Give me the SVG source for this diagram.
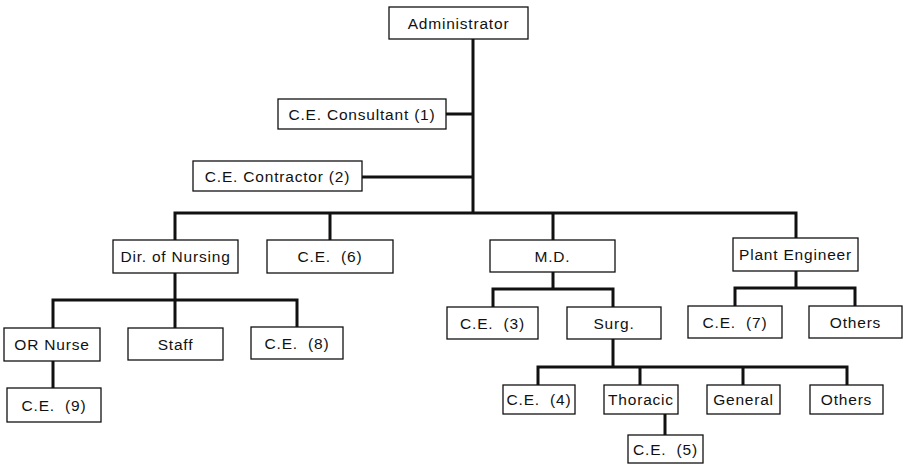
<svg xmlns="http://www.w3.org/2000/svg" width="904" height="464" viewBox="0 0 904 464">
<style>
.b{fill:#fff;stroke:#111;stroke-width:1.3}
.t{font-family:"Liberation Sans",Arial,sans-serif;font-size:15.5px;letter-spacing:0.8px;fill:#111;text-anchor:middle;dominant-baseline:central}
.c{fill:none;stroke:#111;stroke-width:3;stroke-linejoin:miter;stroke-linecap:square}
</style>
<rect width="904" height="464" fill="#fff"/>
<g id="connectors">
<path class="c" d="M473 39V213M446 114H473M362 177H473M175 213H796M175 213V240M330 213V240M553 213V240M796 213V238"/>
<path class="c" d="M175 273V300M53 300H297M53 300V328M175 300V328M297 300V327M53 361V388"/>
<path class="c" d="M553 272V289M493 289H613M493 289V307M613 289V307"/>
<path class="c" d="M796 271V288M735 288H855M735 288V306M855 288V306"/>
<path class="c" d="M613 339V367M538 367H847M538 367V385M640 367V385M743 367V385M847 367V385M665 414V435"/>
</g>
<g id="administrator"><rect class="b" x="389" y="7" width="139" height="32"/><text class="t" x="458.5" y="23">Administrator</text></g>
<g id="ce-consultant"><rect class="b" x="278" y="99" width="168" height="30"/><text class="t" x="362" y="114">C.E. Consultant (1)</text></g>
<g id="ce-contractor"><rect class="b" x="193" y="161" width="169" height="30"/><text class="t" x="277.5" y="176">C.E. Contractor (2)</text></g>
<g id="dir-nursing"><rect class="b" x="113" y="240" width="125" height="33"/><text class="t" x="175.5" y="256.5">Dir. of Nursing</text></g>
<g id="ce6"><rect class="b" x="267" y="240" width="126" height="33"/><text class="t" x="330" y="256.5">C.E.&#160; (6)</text></g>
<g id="md"><rect class="b" x="490" y="240" width="125" height="32"/><text class="t" x="552.5" y="256">M.D.</text></g>
<g id="plant-engineer"><rect class="b" x="733" y="238" width="125" height="33"/><text class="t" x="795.5" y="254.5">Plant Engineer</text></g>
<g id="or-nurse"><rect class="b" x="4" y="328" width="96" height="33"/><text class="t" x="52" y="344.5">OR Nurse</text></g>
<g id="staff"><rect class="b" x="128" y="328" width="95" height="32"/><text class="t" x="175.5" y="344">Staff</text></g>
<g id="ce8"><rect class="b" x="251" y="327" width="92" height="32"/><text class="t" x="297" y="343">C.E.&#160; (8)</text></g>
<g id="ce9"><rect class="b" x="7" y="388" width="94" height="34"/><text class="t" x="54" y="405">C.E.&#160; (9)</text></g>
<g id="ce3"><rect class="b" x="447" y="307" width="91" height="32"/><text class="t" x="492.5" y="323">C.E.&#160; (3)</text></g>
<g id="surg"><rect class="b" x="567" y="307" width="94" height="32"/><text class="t" x="614" y="323">Surg.</text></g>
<g id="ce7"><rect class="b" x="688" y="306" width="94" height="32"/><text class="t" x="735" y="322">C.E.&#160; (7)</text></g>
<g id="others-pe"><rect class="b" x="809" y="306" width="93" height="32"/><text class="t" x="855.5" y="322">Others</text></g>
<g id="ce4"><rect class="b" x="503" y="385" width="72" height="29"/><text class="t" x="539" y="399.5">C.E.&#160; (4)</text></g>
<g id="thoracic"><rect class="b" x="604" y="385" width="74" height="29"/><text class="t" x="641" y="399.5">Thoracic</text></g>
<g id="general"><rect class="b" x="707" y="385" width="73" height="29"/><text class="t" x="743.5" y="399.5">General</text></g>
<g id="others-surg"><rect class="b" x="810" y="385" width="73" height="29"/><text class="t" x="846.5" y="399.5">Others</text></g>
<g id="ce5"><rect class="b" x="628" y="435" width="75" height="28"/><text class="t" x="665.5" y="449">C.E.&#160; (5)</text></g>
</svg>
